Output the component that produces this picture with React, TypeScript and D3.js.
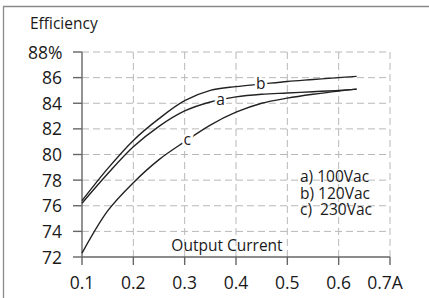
import React, { useEffect, useRef } from 'react';
import * as d3 from 'd3';

// output current (A) and efficiency (%)
const current = [0.1, 0.15, 0.2, 0.25, 0.3, 0.35, 0.4, 0.45, 0.5, 0.55, 0.6, 0.635];
const eff100 = [76.2, 78.5, 80.6, 82.2, 83.4, 84.1, 84.5, 84.7, 84.8, 84.9, 85.0, 85.1];
const eff120 = [76.4, 78.9, 81.1, 82.8, 84.2, 85.0, 85.3, 85.5, 85.7, 85.85, 86.0, 86.1];
const eff230 = [72.3, 75.6, 77.8, 79.6, 81.0, 82.3, 83.3, 84.0, 84.4, 84.7, 84.95, 85.1];

const curveNames = ['a', 'b', 'c'];
const labelCurrent = [0.37, 0.448, 0.305];
const legendLines = ['a) 100Vac', 'b) 120Vac', 'c)  230Vac'];

const xTicks = [0.1, 0.2, 0.3, 0.4, 0.5, 0.6, 0.7];
const xTickLabels = ['0.1', '0.2', '0.3', '0.4', '0.5', '0.6', '0.7A'];
const yTicks = [72, 74, 76, 78, 80, 82, 84, 86, 88];
const yTickLabels = ['72', '74', '76', '78', '80', '82', '84', '86', '88%'];

const FONT = '"Open Sans", sans-serif';

export default function App() {
    const ref = useRef<SVGSVGElement>(null);

    useEffect(() => {
        const width = 429, height = 298;
        const svg = d3.select(ref.current).attr('width', width).attr('height', height);
        svg.selectAll('*').remove();

        const x = d3.scaleLinear().domain([0.1, 0.7]).range([82, 390]);
        const y = d3.scaleLinear().domain([72, 88]).range([257, 52]);

        // frame (only top and left edges show)
        svg.append('path')
            .attr('d', `M3.5,${height}V6.5H${width}`)
            .attr('fill', 'none').attr('stroke', '#8a8a8a').attr('stroke-width', 1.3);

        svg.append('text').attr('x', 30).attr('y', 29)
            .attr('font-family', FONT).attr('font-size', 15.5).attr('fill', '#1a1a1a')
            .text('Efficiency');

        // grid
        const grid = svg.append('g').attr('stroke', '#b8b8b8').attr('stroke-width', 1)
            .attr('stroke-dasharray', '7,4');
        grid.selectAll('line.h').data(yTicks.slice(1)).enter().append('line')
            .attr('x1', x(0.1)).attr('x2', x(0.7))
            .attr('y1', d => y(d)).attr('y2', d => y(d));
        grid.selectAll('line.v').data(xTicks.slice(1)).enter().append('line')
            .attr('x1', d => x(d)).attr('x2', d => x(d))
            .attr('y1', y(72)).attr('y2', y(88));

        // axes
        const axes = svg.append('g').attr('stroke', '#666').attr('stroke-width', 1.4);
        axes.append('line').attr('x1', x(0.1)).attr('x2', x(0.1)).attr('y1', y(88)).attr('y2', y(72));
        axes.append('line').attr('x1', x(0.1)).attr('x2', x(0.7)).attr('y1', y(72)).attr('y2', y(72));
        axes.selectAll('line.yt').data(yTicks).enter().append('line')
            .attr('x1', x(0.1) - 9).attr('x2', x(0.1)).attr('y1', d => y(d)).attr('y2', d => y(d));
        axes.selectAll('line.xt').data(xTicks).enter().append('line')
            .attr('x1', d => x(d)).attr('x2', d => x(d)).attr('y1', y(72)).attr('y2', y(72) + 8);

        svg.selectAll('text.yl').data(yTicks).enter().append('text')
            .attr('x', (d, i) => i === yTicks.length - 1 ? 28 : 62).attr('y', d => y(d) + 6.5)
            .attr('font-family', FONT).attr('font-size', 17.5).attr('fill', '#1a1a1a')
            .attr('text-anchor', (d, i) => i === yTicks.length - 1 ? 'start' : 'end')
            .text((d, i) => yTickLabels[i]);

        svg.selectAll('text.xl').data(xTicks).enter().append('text')
            .attr('x', d => x(d)).attr('y', 289)
            .attr('font-family', FONT).attr('font-size', 17.5).attr('fill', '#1a1a1a')
            .attr('text-anchor', 'middle')
            .attr('dx', (d, i) => i === xTicks.length - 1 ? -5 : 0)
            .text((d, i) => xTickLabels[i]);

        svg.append('text').attr('x', 227).attr('y', 251).attr('text-anchor', 'middle')
            .attr('font-family', FONT).attr('font-size', 15.5).attr('fill', '#1a1a1a')
            .text('Output Current');

        // curves
        const series = [eff100, eff120, eff230];
        const line = d3.line<number>()
            .x((d, i) => x(current[i]))
            .y(d => y(d))
            .curve(d3.curveCatmullRom.alpha(0.5));

        series.forEach(vals => {
            svg.append('path').attr('d', line(vals))
                .attr('fill', 'none').attr('stroke', '#222').attr('stroke-width', 1.4);
        });

        // curve labels sitting in a gap of the line
        series.forEach((vals, k) => {
            const e = d3.scaleLinear().domain(current).range(vals)(labelCurrent[k]);
            svg.append('text')
                .attr('x', x(labelCurrent[k])).attr('y', y(e) + 5)
                .attr('text-anchor', 'middle')
                .attr('font-family', FONT).attr('font-size', 15.5).attr('fill', '#1a1a1a')
                .attr('stroke', '#fff').attr('stroke-width', 5).attr('paint-order', 'stroke')
                .text(curveNames[k]);
        });

        const legend = svg.append('text')
            .attr('font-family', FONT).attr('font-size', 15.5).attr('fill', '#1a1a1a')
            .style('white-space', 'pre');
        legend.selectAll('tspan').data(legendLines).enter().append('tspan')
            .attr('x', 300).attr('y', (d, i) => 182 + i * 16.5)
            .text(d => d);
    }, []);

    return (
        <div style={{ position: 'absolute', left: 0, top: 0 }}>
            <svg ref={ref} style={{ display: 'block', background: '#fff' }} />
        </div>
    );
}
